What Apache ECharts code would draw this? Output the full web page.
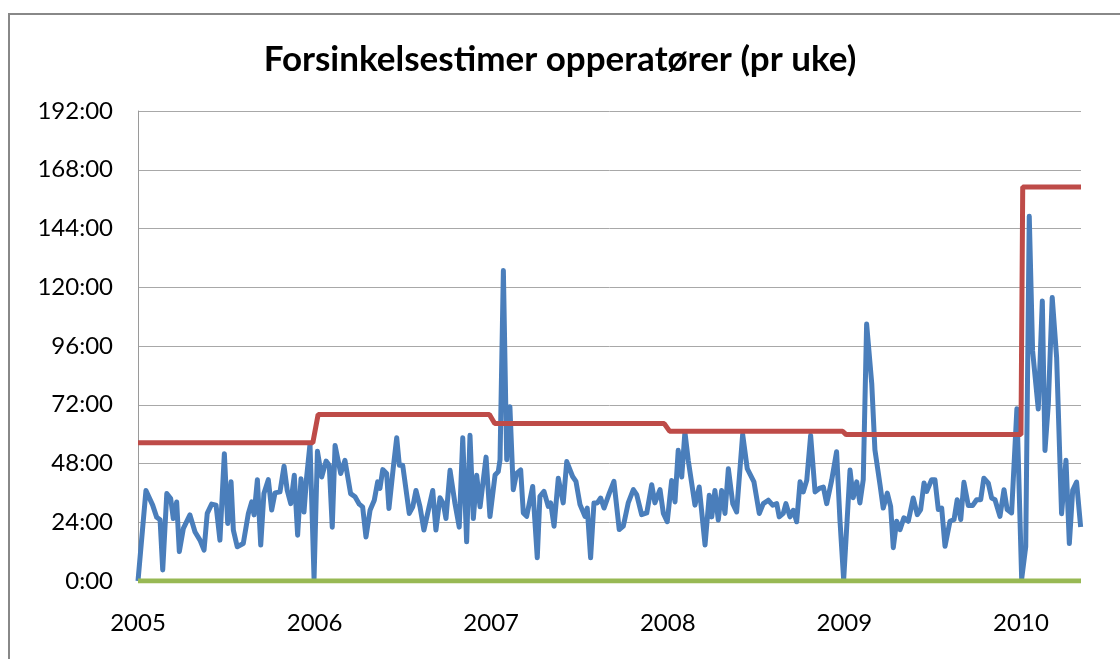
<!DOCTYPE html>
<html>
<head>
<meta charset="utf-8">
<script src="https://cdn.jsdelivr.net/npm/echarts@6/dist/echarts.min.js"></script>
<style>
  html, body { margin: 0; padding: 0; background: #fff; }
  #chart { width: 1120px; height: 659px; }
</style>
</head>
<body>
<div id="chart"></div>
<script>
// weekly delay hours, x = year (decimal)
const weekYears = [
  2005.000, 2005.045, 2005.083, 2005.106, 2005.125, 2005.140, 2005.163, 2005.185, 2005.200, 2005.219,
  2005.234, 2005.257, 2005.294, 2005.323, 2005.351, 2005.374, 2005.392, 2005.417, 2005.442, 2005.464,
  2005.489, 2005.508, 2005.527, 2005.540, 2005.562, 2005.596, 2005.625, 2005.644, 2005.657, 2005.676,
  2005.695, 2005.713, 2005.738, 2005.757, 2005.776, 2005.804, 2005.827, 2005.845, 2005.865, 2005.885,
  2005.904, 2005.923, 2005.940, 2005.955, 2005.974, 2005.997,
  2006.016, 2006.040, 2006.065, 2006.083, 2006.100, 2006.116, 2006.148, 2006.172, 2006.204, 2006.229,
  2006.253, 2006.272, 2006.291, 2006.314, 2006.338, 2006.357, 2006.370, 2006.386, 2006.408, 2006.421,
  2006.446, 2006.465, 2006.480, 2006.499, 2006.536, 2006.556, 2006.574, 2006.597, 2006.619, 2006.638,
  2006.669, 2006.687, 2006.710, 2006.729, 2006.744, 2006.767, 2006.795, 2006.819, 2006.839, 2006.861,
  2006.880, 2006.899, 2006.918, 2006.937, 2006.971, 2006.993,
  2007.022, 2007.040, 2007.050, 2007.069, 2007.088, 2007.106, 2007.125, 2007.144, 2007.167, 2007.182,
  2007.201, 2007.235, 2007.261, 2007.276, 2007.299, 2007.323, 2007.337, 2007.356, 2007.380, 2007.408,
  2007.428, 2007.461, 2007.480, 2007.503, 2007.531, 2007.544, 2007.563, 2007.582, 2007.601, 2007.620,
  2007.639, 2007.669, 2007.695, 2007.725, 2007.748, 2007.776, 2007.805, 2007.824, 2007.852, 2007.881,
  2007.909, 2007.927, 2007.956, 2007.975, 2007.997,
  2008.022, 2008.041, 2008.059, 2008.079, 2008.097, 2008.116, 2008.154, 2008.178, 2008.211, 2008.235,
  2008.249, 2008.267, 2008.286, 2008.305, 2008.324, 2008.343, 2008.368, 2008.390, 2008.424, 2008.450,
  2008.488, 2008.518, 2008.541, 2008.569, 2008.594, 2008.617, 2008.631, 2008.654, 2008.669, 2008.692,
  2008.711, 2008.730, 2008.749, 2008.767, 2008.787, 2008.809, 2008.834, 2008.858, 2008.881, 2008.900,
  2008.928, 2008.956, 2008.975, 2008.996,
  2009.032, 2009.050, 2009.070, 2009.088, 2009.107, 2009.126, 2009.155, 2009.173, 2009.202, 2009.220,
  2009.243, 2009.262, 2009.277, 2009.296, 2009.315, 2009.337, 2009.362, 2009.390, 2009.413, 2009.432,
  2009.451, 2009.466, 2009.494, 2009.513, 2009.532, 2009.551, 2009.570, 2009.598, 2009.621, 2009.639,
  2009.659, 2009.677, 2009.702, 2009.726, 2009.749, 2009.772, 2009.790, 2009.815, 2009.834, 2009.853,
  2009.881, 2009.904, 2009.922, 2009.947, 2009.977, 2010.004,
  2010.027, 2010.047, 2010.066, 2010.098, 2010.121, 2010.136, 2010.155, 2010.177, 2010.202, 2010.230,
  2010.255, 2010.274, 2010.293, 2010.315, 2010.338
];
const delayHours = [
  0, 37, 31, 26, 25, 4.5, 35.7, 33.7, 25.5, 32.3,
  12, 21.5, 27, 20, 16.7, 12.6, 27.6, 31.4, 31, 16.7,
  52, 23.5, 40.5, 20.8, 14, 15.3, 27.6, 32.3, 27, 41.4,
  14.7, 35.7, 41.4, 29, 36, 36.4, 46.9, 37, 31.6, 43.2,
  18.7, 41.8, 28.2, 42.5, 56, 1,
  53, 42.5, 49, 47.3, 22, 55.4, 43.9, 49.3, 35.7, 34.4,
  31.4, 30.3, 18, 28.9, 33, 40.5, 37.8, 45.5, 43.9, 29.6,
  46.6, 58.5, 47.3, 47.3, 27.6, 30.3, 37, 30.3, 20.8, 26.9,
  37, 20.8, 34, 31.6, 25.5, 45.2, 31.6, 22, 58.5, 16,
  59.5, 25.5, 43.2, 30.3, 50.6, 26.3,
  43.3, 44.7, 49.5, 126.8, 49.5, 71.2, 37.3, 44, 45.4, 27.8,
  26.4, 38.6, 9.5, 34.6, 36.6, 30.5, 31.9, 22.4, 42, 31.9,
  48.8, 42.7, 40.7, 31.2, 26.4, 29.8, 9.5, 31.9, 31.9, 33.9,
  29.8, 35.9, 40.7, 21, 22.4, 31.9, 37.3, 35.3, 27.1, 27.8,
  39.3, 31.9, 37.3, 27.6, 24.2,
  41.1, 32.3, 53.4, 42.5, 60.8, 49.3, 31, 38.4, 14.7, 35,
  26.2, 37, 24.9, 37, 27.6, 45.9, 31.6, 28.2, 59.9, 45.9,
  40.5, 27.6, 31.6, 33, 31, 31.6, 26.2, 27.6, 31.6, 26.2,
  28.9, 24.2, 40.5, 36.4, 41.1, 59.5, 36.4, 37.8, 38.4, 31.6,
  41.1, 52.8, 24.9, 0.5,
  45.3, 34, 40.5, 31.9, 41.4, 105, 80.7, 53.6, 39.3, 29.8,
  35.9, 30.5, 13.6, 24.4, 21, 25.8, 24.4, 33.9, 27.1, 29.2,
  40, 36.6, 41.4, 41.4, 29.2, 29.8, 14.2, 24.4, 25.1, 33.2,
  25.1, 40.3, 30.8, 30.8, 33.2, 33.2, 42, 40, 33.9, 33.2,
  26.4, 37.3, 29.2, 27.8, 70.4, 0.8,
  14, 149, 94, 70.3, 114.4, 53.3, 72.3, 115.8, 91.3, 27.5,
  49.3, 15.3, 37, 40.4, 22.1
];
// limit per year (red step line)
const limitYears = [2005.00, 2005.99, 2006.02, 2006.99, 2007.02, 2007.98, 2008.01, 2008.99, 2009.01, 2010.00, 2010.01, 2010.34];
const limitHours = [56.5, 56.5, 68, 68, 64.3, 64.3, 61.2, 61.2, 59.8, 59.8, 161, 161];
// zero baseline (green)
const baseYears = [2005, 2010.34];
const baseHours = [0, 0];

const yTicks = [0, 24, 48, 72, 96, 120, 144, 168, 192];

const zip = (xs, ys) => xs.map((x, i) => [x, ys[i]]);

const chart = echarts.init(document.getElementById('chart'));
chart.setOption({
  animation: false,
  backgroundColor: '#fff',
  textStyle: { fontFamily: 'Lato' },
  title: {
    text: 'Forsinkelsestimer opperatører (pr uke)',
    left: 'center',
    top: 37,
    textStyle: { fontFamily: 'Lato', fontSize: 35, fontWeight: 'bold', color: '#000' },
  },
  graphic: [
    {
      type: 'rect',
      shape: { x: 9, y: 14, width: 1200, height: 700 },
      style: { fill: 'none', stroke: '#888', lineWidth: 2 },
      silent: true,
    },
  ],
  grid: { left: 138, top: 111, right: 39, bottom: 78, containLabel: false },
  xAxis: {
    type: 'value',
    min: 2005,
    max: 2010.34,
    interval: 1,
    axisLine: { show: false },
    axisTick: { show: false },
    splitLine: { show: false },
    axisLabel: {
      margin: 30,
      fontSize: 24,
      color: '#000',
      formatter: (v) => (Math.abs(v - Math.round(v)) < 1e-6 ? String(Math.round(v)) : ''),
    },
  },
  yAxis: {
    type: 'value',
    min: yTicks[0],
    max: yTicks[yTicks.length - 1],
    interval: 24,
    axisLine: { show: true, lineStyle: { color: '#9a9a9a', width: 1 } },
    axisTick: { show: false },
    splitLine: { show: true, lineStyle: { color: '#a8a8a8', width: 1 } },
    axisLabel: {
      margin: 25,
      fontSize: 24,
      color: '#000',
      formatter: (v) => `${v}:00`,
    },
  },
  series: [
    {
      name: 'Timer',
      type: 'line',
      data: zip(weekYears, delayHours),
      showSymbol: false,
      lineStyle: { color: '#4A7EBB', width: 5, join: 'round' },
      itemStyle: { color: '#4A7EBB' },
    },
    {
      name: 'Grense',
      type: 'line',
      data: zip(limitYears, limitHours),
      showSymbol: false,
      lineStyle: { color: '#BE4B48', width: 5 },
      itemStyle: { color: '#BE4B48' },
    },
    {
      name: 'Null',
      type: 'line',
      data: zip(baseYears, baseHours),
      showSymbol: false,
      lineStyle: { color: '#98B954', width: 5 },
      itemStyle: { color: '#98B954' },
    },
  ],
});
</script>
</body>
</html>
